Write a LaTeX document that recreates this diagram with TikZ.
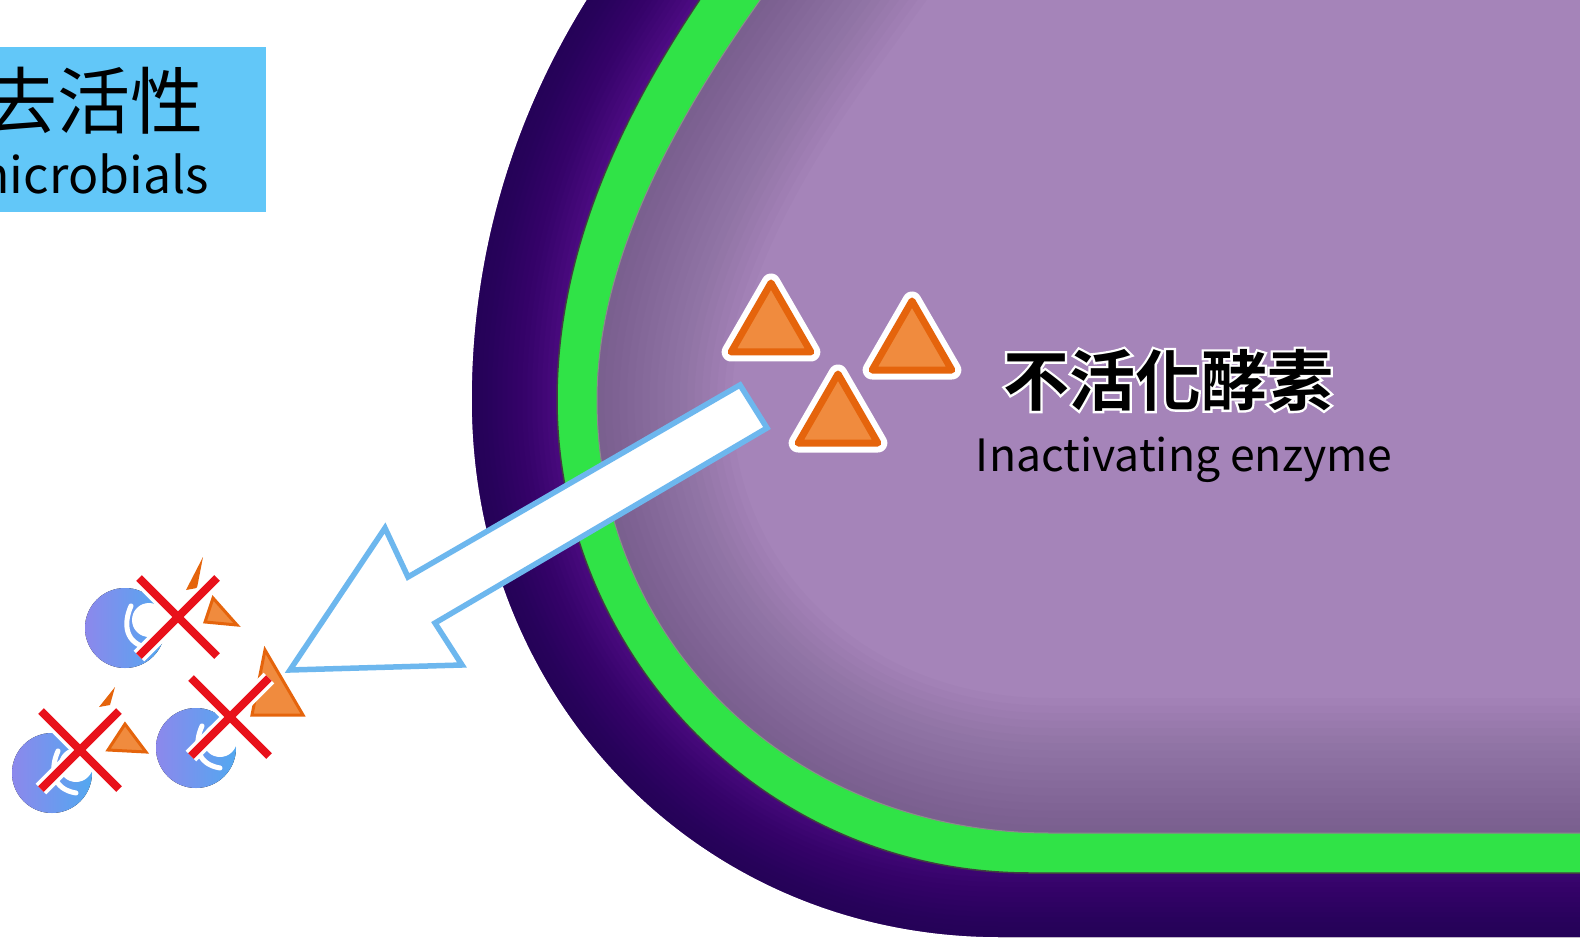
\documentclass[tikz,border=0pt]{standalone}
\usepackage{fontspec}
\setmainfont{Noto Sans CJK TC}
\newfontfamily\zhbold{Noto Sans CJK TC Bold}
\newfontfamily\zhhalo[FakeBold=7]{Noto Sans CJK TC Bold}
\usetikzlibrary{shapes.geometric}

\definecolor{wallout}{HTML}{17024A}
\definecolor{wallin}{HTML}{560D8C}
\definecolor{membrane}{HTML}{30E347}
\definecolor{cyto}{HTML}{A584B9}
\definecolor{cytoshade}{HTML}{5A4670}
\definecolor{enzfill}{HTML}{F08B3E}
\definecolor{enzedge}{HTML}{E5640C}
\definecolor{arrowblue}{HTML}{6DB7EE}
\definecolor{drugblue}{HTML}{52A8F0}
\definecolor{druglilac}{HTML}{8C88EC}
\definecolor{crossred}{HTML}{E8111B}
\definecolor{titlebox}{HTML}{62C7F8}

\newcommand\cellwall{(633,-72) -- (592,-8) .. controls (510,120) and (472,260) .. (472,400) .. controls (472,700) and (700,937) .. (1000,937) -- (1600,937)}
\newcommand\membout{(751,-76) -- (705,-8) .. controls (612,128) and (557,262) .. (557,400) .. controls (557,650) and (760,873) .. (1030,873) -- (1600,873)}
\newcommand\membin{(818,-80) -- (766,-8) .. controls (662,136) and (597,272) .. (597,400) .. controls (597,640) and (790,833) .. (1050,833) -- (1600,833)}

\tikzset{
  enzyme/.style={regular polygon, regular polygon sides=3, minimum size=92pt, inner sep=0pt,
    fill=enzfill, draw=enzedge, line width=7pt, line join=round,
    preaction={draw=white, line width=19pt, line join=round}},
  zh label/.style={inner sep=0pt, font=\fontsize{66pt}{66pt}\zhbold},
  drugmol/.pic={
    \fill[left color=druglilac, right color=drugblue] (0,0) circle (40pt);
    \fill[white] (24,-8) circle (17pt);
    \draw[white, line width=5pt, line cap=round] (6,-22) .. controls (-2,-4) and (0,16) .. (24,20);
  },
  redcross/.pic={
    \draw[crossred, line width=8pt, preaction={draw=white, line width=15pt}] (-39,-39) -- (39,39) (39,-39) -- (-39,39);
  }
}

\begin{document}
\begin{tikzpicture}[x=1pt, y=-1pt]
\useasboundingbox (0,0) rectangle (1580,941);
\fill[white] (0,0) rectangle (1580,941);

\begin{scope}
  \clip \cellwall -- (1600,-80) -- cycle;
  \fill[wallin] (0,-100) rectangle (1600,960);
  \foreach \w in {200,190,...,10}
    \draw[wallout, opacity=0.06, line width=\w pt] \cellwall;
\end{scope}

\fill[membrane] \membout -- (1600,-80) -- cycle;
\draw[black!75, line width=1.5pt] \membout;

\begin{scope}
  \clip \membin -- (1600,-80) -- cycle;
  \fill[cyto] (0,-100) rectangle (1600,960);
  \foreach \w in {270,255,...,15}
    \draw[cytoshade, opacity=0.035, line width=\w pt] \membin;
\end{scope}
\draw[black!45, line width=1pt] \membin;

\node[enzyme] (enz1) at (771,329) {};
\node[enzyme] (enz2) at (912,347) {};
\node[enzyme] (enz3) at (838,420) {};

\node[inner sep=0pt, font=\fontsize{66pt}{66pt}\zhhalo, text=white] at (1168,380) {不活化酵素};
\node[zh label] (zhlabel) at (1168,380) {不活化酵素};
\node[anchor=base, inner sep=0pt, font=\fontsize{44.5pt}{44.5pt}\selectfont] (enlabel) at (1184,471) {Inactivating enzyme};

\draw[arrowblue, line width=5.5pt, fill=white] (290,670) -- (385,528) -- (408,577) -- (740,385) -- (767,428) -- (435,623) -- (462,665) -- cycle;

\pic at (125,628) {drugmol};
\fill[enzedge] (186,590) -- (203,557) -- (197,588) -- cycle;
\fill[enzfill, draw=enzedge, line width=3pt] (213,598) -- (237,625) -- (205,622) -- cycle;
\pic at (178,617) {redcross};

\pic at (196,748) {drugmol};
\fill[enzfill, draw=enzedge, line width=3pt] (265,650) -- (303,715) -- (252,715) -- cycle;
\pic at (230,717) {redcross};

\pic at (52,773) {drugmol};
\fill[enzedge] (99,707) -- (115,687) -- (110,705) -- cycle;
\fill[enzfill, draw=enzedge, line width=3pt] (125,724) -- (146,752) -- (108,750) -- cycle;
\pic at (80,750) {redcross};

\fill[titlebox] (0,47) rectangle (266,212);
\node[anchor=east, inner sep=0pt, font=\fontsize{73pt}{73pt}\selectfont] (title) at (204,101) {去活性};
\node[anchor=base east, inner sep=0pt, font=\fontsize{50pt}{50pt}\selectfont] (subtitle) at (209,194) {nicrobials};
\end{tikzpicture}
\end{document}
